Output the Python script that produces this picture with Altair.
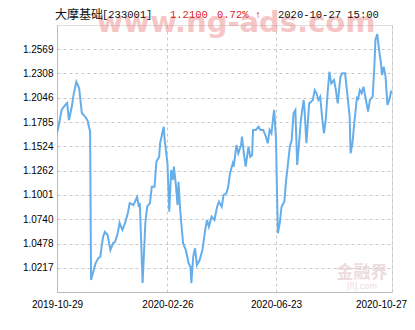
import altair as alt
import pandas as pd

start_date = "2019-10-29"
# days since 2019-10-29, and net asset value
day_offset = [0, 2, 5, 9, 11, 13, 16, 18, 21, 24, 27, 30, 33, 36, 37, 39, 42, 45, 47, 50,
              52, 55, 58, 61, 63, 66, 68, 71, 74, 77, 79, 83, 87, 89, 90, 93, 96, 98, 101, 103,
              106, 108, 111, 112, 116, 117, 120, 122, 124, 126, 127, 129, 131, 132, 134, 137, 140, 143, 145, 146,
              148, 150, 152, 155, 158, 161, 163, 165, 168, 171, 174, 176, 179, 181, 184, 186, 188, 191, 192, 195,
              197, 200, 201, 203, 205, 208, 210, 212, 213, 216, 219, 221, 224, 227, 229, 231, 233, 235, 236, 238,
              239, 240, 242, 244, 247, 249, 251, 253, 255, 257, 259, 261, 263, 265, 268, 269, 271, 274, 276, 278,
              280, 282, 284, 286, 288, 290, 292, 294, 296, 298, 301, 303, 305, 308, 310, 313, 315, 318, 319, 321,
              323, 326, 327, 329, 331, 333, 335, 337, 338, 340, 343, 345, 346, 348, 350, 352, 353, 355, 357, 359,
              361, 363, 364]
nav = [1.1668, 1.1754, 1.1915, 1.1969, 1.1990, 1.1807, 1.1947, 1.2077, 1.2220, 1.2152, 1.1883, 1.1850, 1.1807, 1.1681, 1.0085, 1.0161, 1.0268, 1.0322, 1.0333, 1.0548,
       1.0602, 1.0570, 1.0408, 1.0483, 1.0494, 1.0591, 1.0699, 1.0623, 1.0699, 1.0806, 1.0914, 1.0892, 1.0979, 1.0871, 1.0914, 1.0053, 1.0699, 1.0874, 1.0914, 1.1089,
       1.1089, 1.1359, 1.1412, 1.1557, 1.1735, 1.1592, 1.1341, 1.0820, 1.1269, 1.1162, 1.1305, 1.1126, 1.0892, 1.1143, 1.0820, 1.0480, 1.0408, 1.0265, 1.0228, 1.0050,
       1.0336, 1.0426, 1.0247, 1.0300, 1.0408, 1.0623, 1.0731, 1.0659, 1.0767, 1.0731, 1.0874, 1.0928, 1.0874, 1.1000, 1.1018, 1.1089, 1.1234, 1.1341, 1.1305, 1.1538,
       1.1449, 1.1538, 1.1628, 1.1449, 1.1305, 1.1520, 1.1412, 1.1431, 1.1700, 1.1700, 1.1735, 1.1700, 1.1700, 1.1628, 1.1557, 1.1700, 1.1664, 1.1843, 1.1915, 1.1592,
       1.1054, 1.0588, 1.0696, 1.0874, 1.0928, 1.1162, 1.1341, 1.1520, 1.1592, 1.1880, 1.1915, 1.1323, 1.1557, 1.1807, 1.2023, 1.1915, 1.1557, 1.1987, 1.2004, 1.2023,
       1.2130, 1.2095, 1.2023, 1.2058, 1.1843, 1.1664, 1.1807, 1.2095, 1.2327, 1.2202, 1.2238, 1.2130, 1.1987, 1.2274, 1.2310, 1.2310, 1.2130, 1.1843, 1.1449, 1.1557,
       1.1772, 1.2058, 1.2023, 1.2130, 1.2095, 1.2166, 1.2058, 1.1951, 1.1897, 1.2023, 1.2058, 1.2418, 1.2669, 1.2733, 1.2561, 1.2418, 1.2292, 1.2381, 1.2274, 1.1969,
       1.2023, 1.2112, 1.2100]

y_ticks = ["1.0217", "1.0478", "1.0740", "1.1001", "1.1262", "1.1524", "1.1785", "1.2046", "1.2308", "1.2569"]
y_domain = [0.9956, 1.2830]
x_ticks = [(2019, 10, 29), (2020, 2, 26), (2020, 6, 23), (2020, 10, 27)]

fund_name = "大摩基础"
fund_code = "[233001]"
last_nav = "1.2100"
change = "0.72% ↑"
stamp = "2020-10-27 15:00"

df = pd.DataFrame({
    "date": pd.to_datetime(start_date) + pd.to_timedelta(day_offset, unit="D"),
    "nav": nav,
})

W, H = 335, 267
mono = "Liberation Mono"
red = "#e0201c"

x_enc = alt.X(
    "date:T",
    scale=alt.Scale(domain=[alt.DateTime(year=2019, month=10, date=29),
                            alt.DateTime(year=2020, month=10, date=27)]),
    axis=alt.Axis(
        values=[alt.DateTime(year=a, month=b, date=c) for a, b, c in x_ticks],
        format="%Y-%m-%d", title=None, grid=True, gridDash=[3, 3], gridColor="#c8c8c8",
        ticks=False, domainColor="#bbbbbb", labelPadding=7, labelFlush=False,
        labelOffset={"condition": {"test": "datum.value > datetime(2020, 8, 1)", "value": -11}, "value": 0},
    ),
)
y_enc = alt.Y(
    "nav:Q",
    scale=alt.Scale(domain=y_domain, nice=False, zero=False),
    axis=alt.Axis(
        values=[float(v) for v in y_ticks], format=".4f", title=None, grid=True,
        gridDash=[3, 3], gridColor="#c8c8c8", ticks=False, domainColor="#bbbbbb",
        labelPadding=4,
    ),
)

line = alt.Chart(df).mark_line(color="#66aeea", strokeWidth=2, clip=True).encode(x=x_enc, y=y_enc)

def label(text, x, color="#111111", font=mono, size=10.5, weight="normal", opacity=1.0,
          align="left", y=-10, baseline="middle"):
    return alt.Chart(pd.DataFrame({"t": [text]})).mark_text(
        align=align, baseline=baseline, font=font, fontSize=size, color=color,
        fontWeight=weight, opacity=opacity,
    ).encode(text="t:N", x=alt.value(x), y=alt.value(y))

watermark = label("www.ng-ads.com", 179, color="#ee8f8f", font="DejaVu Sans", size=29,
                  weight="bold", opacity=0.5, align="center", y=7, baseline="alphabetic")
jrj = label("金融界", 305, color="#e9d4d4", font="Noto Sans CJK SC", size=17,
            weight="bold", opacity=0.8, align="center", y=248)
jrj2 = label("JRJ.com", 305, color="#e9d4d4", font="DejaVu Sans", size=8,
             opacity=0.8, align="center", y=262)

chart = alt.layer(
    watermark, jrj, jrj2, line,
    label(fund_name, -2, font="Noto Sans CJK SC", size=12),
    label(fund_code, 45),
    label(last_nav, 113, color=red),
    label(change, 160, color=red),
    label(stamp, 221),
).properties(
    width=W, height=H,
    autosize=alt.AutoSizeParams(type="none"),
    padding={"left": 57, "top": 25, "right": 23, "bottom": 38},
).configure_view(stroke="#cccccc").configure_axis(
    labelFont=mono, labelFontSize=10.5, labelColor="#111111",
).configure(background="white")

chart.save("out.html", embed_options={"renderer": "svg", "actions": False})
